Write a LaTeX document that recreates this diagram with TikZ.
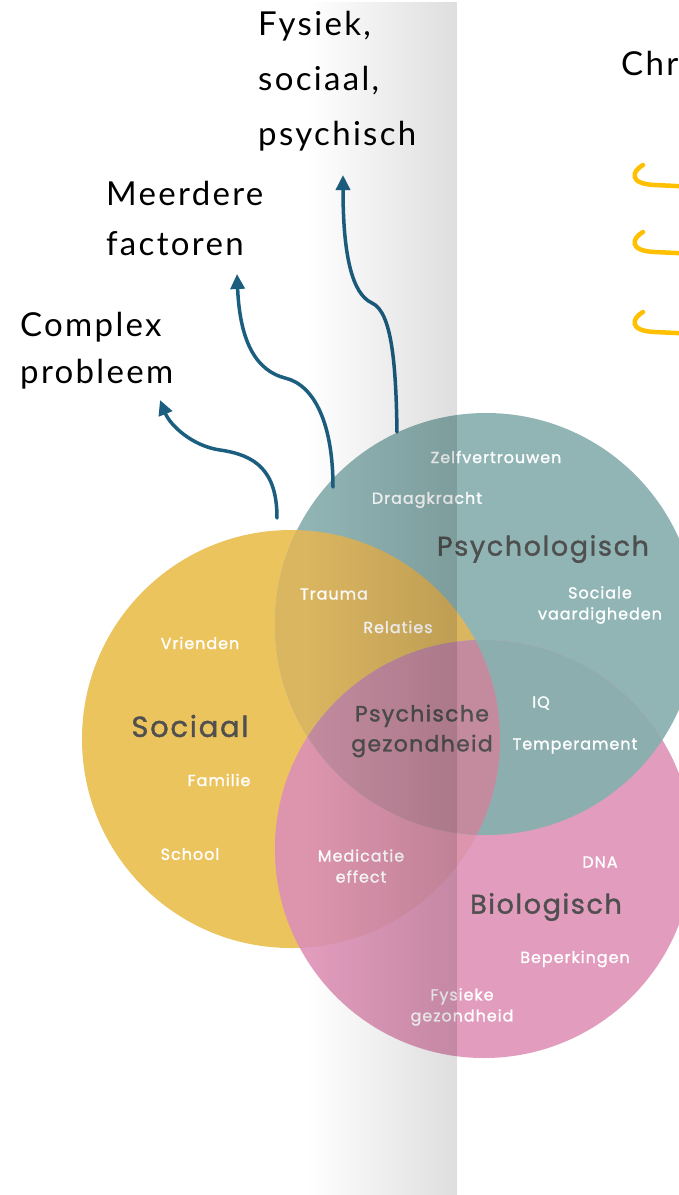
\documentclass[tikz,border=0pt]{standalone}
\usepackage{fontspec}
\setmainfont{Lato}
\newfontfamily\vennfont{Poppins}[LetterSpace=6, FakeBold=1.3]
\newfontfamily\handfont{Lato}[LetterSpace=7]
\usetikzlibrary{arrows.meta,fadings}

\definecolor{socialc}{HTML}{ECC45E}
\definecolor{psychc}{HTML}{91B5B5}
\definecolor{bioc}{HTML}{E29CBD}
\definecolor{socpsy}{HTML}{DBB661}
\definecolor{socbio}{HTML}{DD95AE}
\definecolor{psybio}{HTML}{8DAEAF}
\definecolor{allthree}{HTML}{C48B9F}
\definecolor{titlegray}{HTML}{4F4F4F}
\definecolor{arrowblue}{HTML}{1C5E80}
\definecolor{hookgold}{HTML}{FFC000}

\tikzfading[name=spinefade, left color=transparent!100, middle color=transparent!97, right color=transparent!87]

\tikzset{
  small/.style={font=\vennfont\fontsize{16}{21}\selectfont, text=white, align=center, inner sep=0pt},
  bigtitle/.style={font=\vennfont\fontsize{27}{30}\selectfont, text=titlegray, align=center, inner sep=0pt},
  midtitle/.style={font=\vennfont\fontsize{22}{30}\selectfont, text=titlegray, align=center, inner sep=0pt},
  hand/.style={text=black, align=left, anchor=base west, inner sep=0pt},
  flow/.style={draw=arrowblue, line width=3.5pt, line cap=round, -{Triangle[length=15pt,width=14pt]}},
  hook/.style={draw=hookgold, line width=4.5pt, line cap=round, -{Triangle[length=16pt,width=16pt]}}
}

\begin{document}
\begin{tikzpicture}[x=1pt, y=-1pt]
\clip (0,0) rectangle (679,1195);
\fill[white] (0,0) rectangle (679,1195);

% circle centres and radii
\def\socialcircle{(291,739) circle (209)}
\def\psychcircle{(486,624) circle (211)}
\def\biocircle{(484,849) circle (209)}

% base discs
\fill[socialc] \socialcircle;
\fill[psychc] \psychcircle;
\fill[bioc] \biocircle;
% overlaps
\begin{scope}
  \clip \socialcircle;
  \fill[socpsy] \psychcircle;
  \fill[socbio] \biocircle;
\end{scope}
\begin{scope}
  \clip \psychcircle;
  \fill[psybio] \biocircle;
\end{scope}
\begin{scope}
  \clip \socialcircle;
  \clip \psychcircle;
  \fill[allthree] \biocircle;
\end{scope}

% circle labels
\node[bigtitle] (psy) at (543,549) {Psychologisch};
\node[bigtitle, font=\vennfont\fontsize{29}{30}\selectfont] (soc) at (190,726) {Sociaal};
\node[bigtitle] (bio) at (546,907) {Biologisch};
\node[midtitle] (core) at (422,731) {Psychische\\gezondheid};

\node[small] (zelf) at (496,457) {Zelfvertrouwen};
\node[small] (draag) at (427,500) {Draagkracht};
\node[small] (trauma) at (334,594) {Trauma};
\node[small] (rel) at (398,627) {Relaties};
\node[small] (socv) at (600,605) {Sociale\\vaardigheden};
\node[small] (vri) at (200,643) {Vrienden};
\node[small] (iq) at (541,703) {IQ};
\node[small] (temp) at (575,746) {Temperament};
\node[small] (fam) at (219,780) {Familie};
\node[small] (school) at (190,854) {School};
\node[small] (med) at (361,866) {Medicatie\\effect};
\node[small] (dna) at (600,862) {DNA};
\node[small] (bep) at (575,959) {Beperkingen};
\node[small] (fys) at (462,1007) {Fysieke\\gezondheid};

% handwritten notes (anchored on the baseline of their last line)
\node[hand, font=\handfont\fontsize{33}{55}\selectfont] (nfys) at (258,145) {Fysiek,\\sociaal,\\psychisch};
\node[hand, font=\handfont\fontsize{33}{50}\selectfont] (nmeer) at (106,255) {Meerdere\\factoren};
\node[hand, font=\handfont\fontsize{33}{47}\selectfont] (ncomp) at (20,383) {Complex\\probleem};
\node[hand, font=\handfont\fontsize{33}{50}\selectfont] (nchr) at (621,75) {Chr};

% blue connectors from the discs to the notes
\coordinate (a1s) at (277,518);
\coordinate (a1e) at (160,400);
\coordinate (a2s) at (333,487);
\coordinate (a2e) at (237,274);
\coordinate (a3s) at (397,432);
\coordinate (a3e) at (343,175);
\draw[flow] (a1s) .. controls (277,470) and (255,455) .. (220,450)
                  .. controls (192,446) and (170,425) .. (a1e);
\draw[flow] (a2s) .. controls (333,425) and (315,385) .. (285,378)
                  .. controls (258,371) and (240,345) .. (a2e);
\draw[flow] (a3s) .. controls (396,365) and (392,312) .. (372,303)
                  .. controls (352,294) and (343,255) .. (a3e);

% gold hooks on the right
\foreach \yy/\nm in {165/h1, 232/h2, 312/h3}{
  \coordinate (\nm s) at (643,\yy);
  \coordinate (\nm e) at (697,\yy+22);
  \draw[hook] (\nm s) .. controls (632,\yy+6) and (628,\yy+19) .. (655,\yy+20) -- (\nm e);
}

% spine shadow across the page
\fill[black, path fading=spinefade] (308,0) rectangle (457,1195);
\end{tikzpicture}
\end{document}
